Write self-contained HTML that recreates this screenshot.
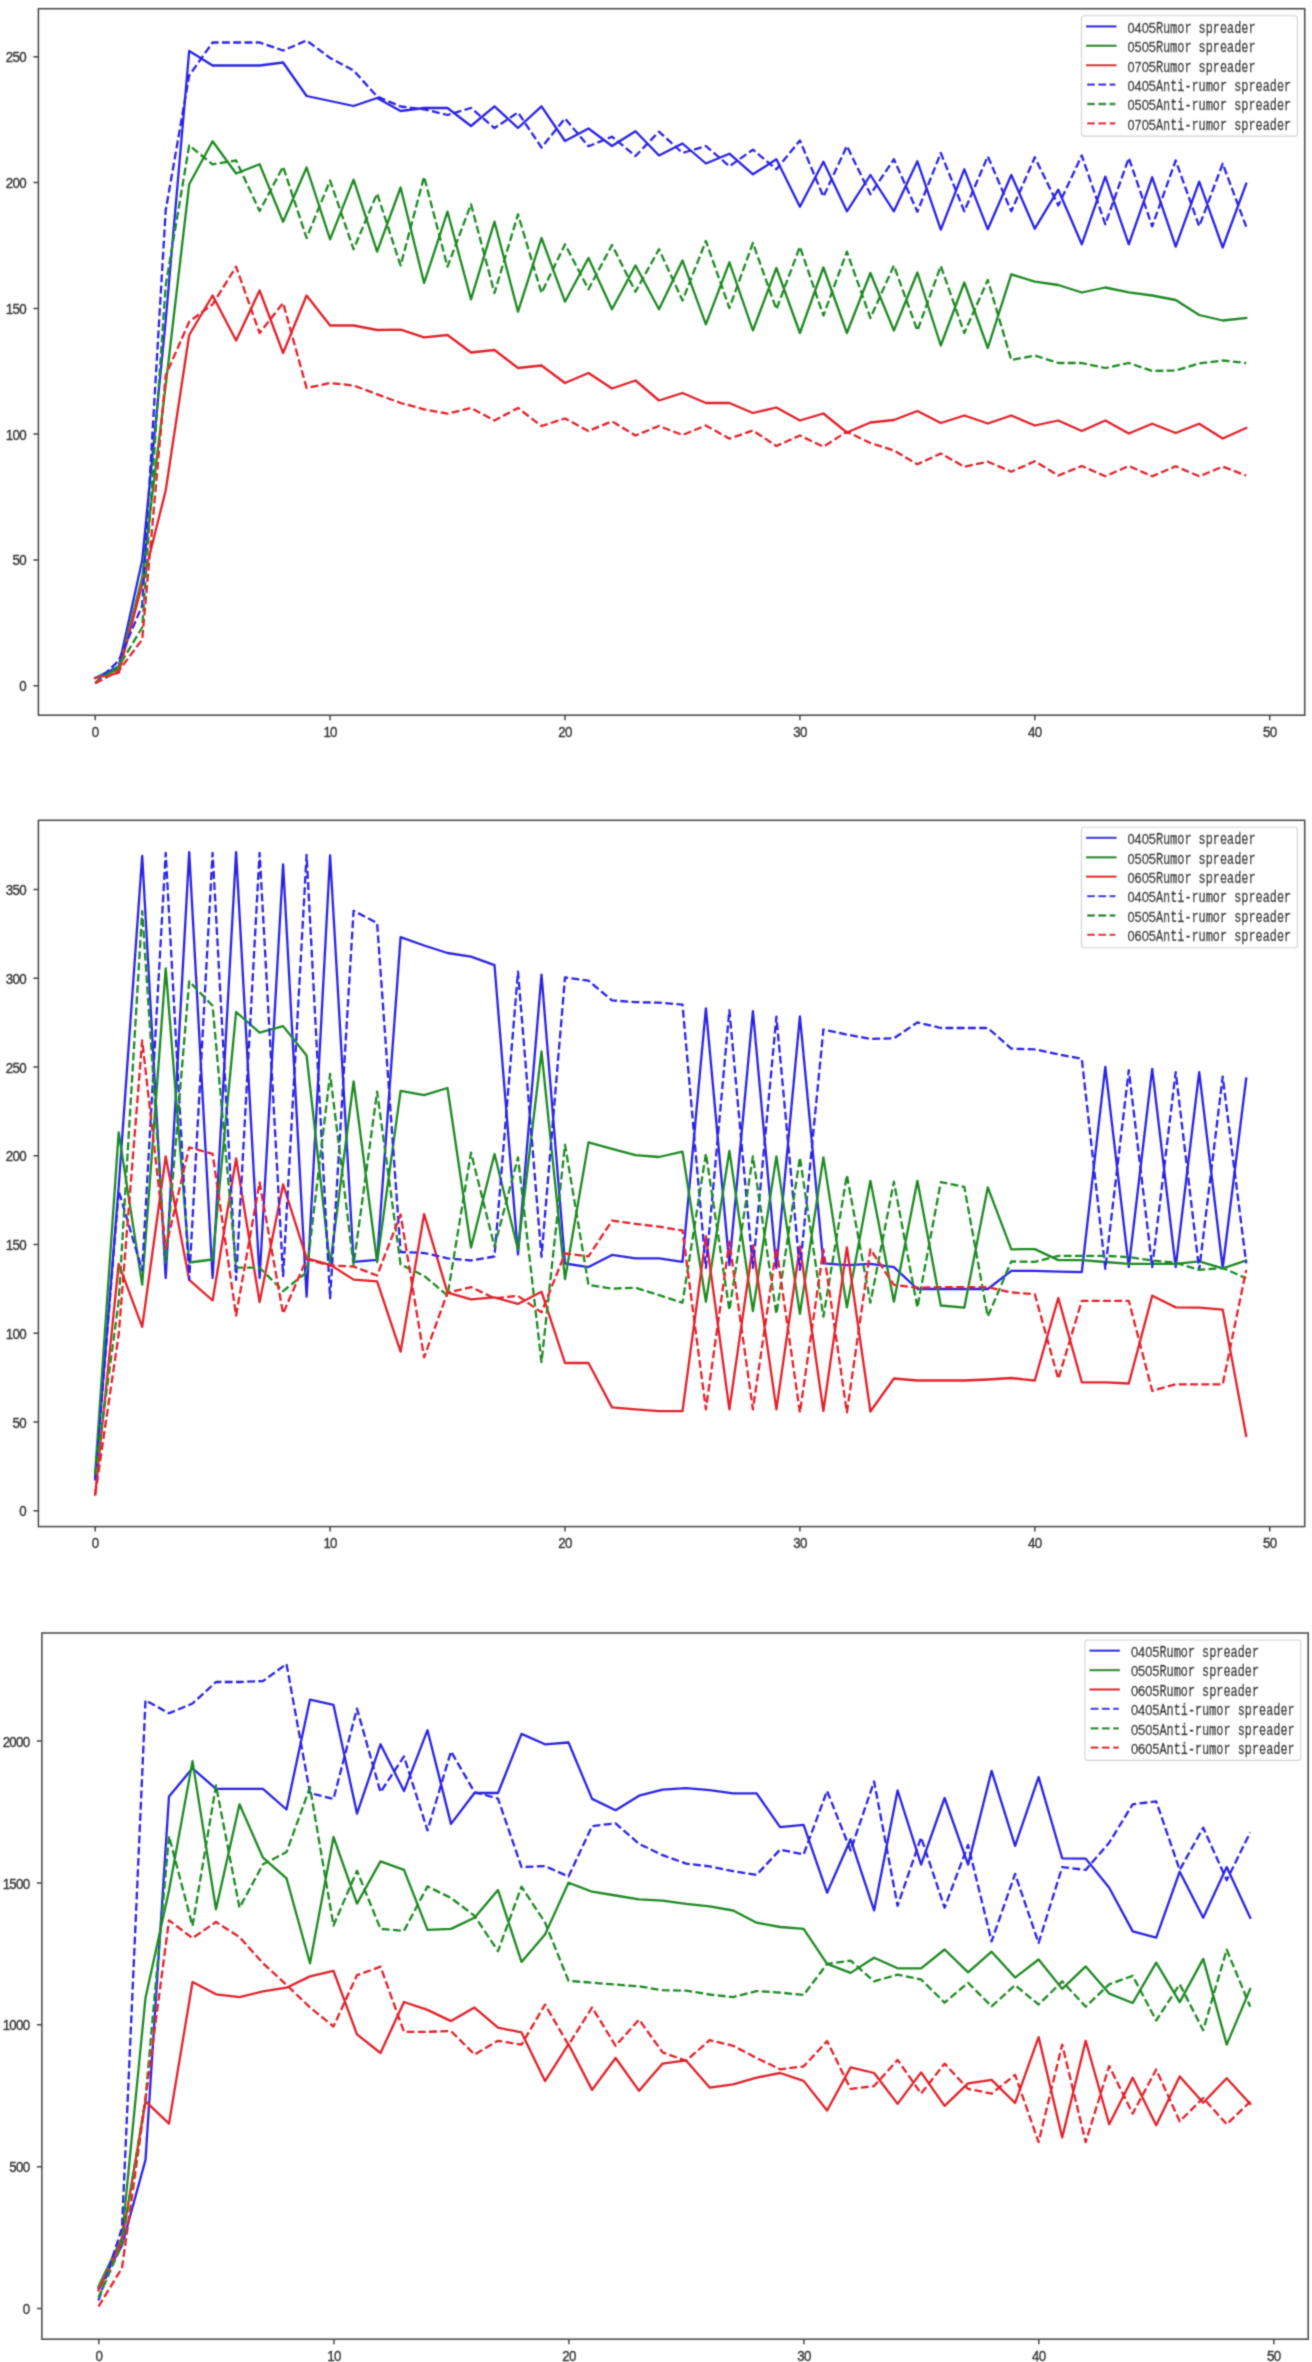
<!DOCTYPE html>
<html lang="en"><head><meta charset="utf-8"><title>Rumor spreader charts</title>
<style>html,body{margin:0;padding:0;background:#fff}svg{display:block}.tk{font-family:"Liberation Sans",sans-serif;font-size:15.5px;letter-spacing:-0.8px;fill:#383838;stroke:#383838;stroke-width:0.4px}.lg{font-family:"Liberation Mono",monospace;font-size:15.8px;fill:#1c1c1c;stroke:#1c1c1c;stroke-width:0.3px}.dg{font-family:"Liberation Sans",sans-serif;font-size:15.5px}.ln{fill:none;stroke-width:2.3;stroke-linejoin:round;stroke-linecap:square;opacity:1}.d{stroke-dasharray:7.85 3.4;stroke-linecap:butt}.b{stroke:#2a24e2}.g{stroke:#1f8824}.r{stroke:#e02029}.fr{fill:none;stroke:#454545;stroke-width:1.5}</style></head><body>
<svg width="1312" height="2362" viewBox="0 0 1312 2362">
<defs><filter id="soft" x="0" y="0" width="1312" height="2362" filterUnits="userSpaceOnUse"><feConvolveMatrix order="3" kernelMatrix="0.0324 0.1152 0.0324 0.1152 0.4096 0.1152 0.0324 0.1152 0.0324" divisor="1" edgeMode="duplicate" preserveAlpha="false"/></filter></defs>
<rect width="1312" height="2362" fill="#fff"/>
<g filter="url(#soft)"><g transform="translate(0 0.5)">
<g id="chart1">
<clipPath id="cp0"><rect x="38.4" y="8.2" width="1266.3" height="706.5"/></clipPath>
<g clip-path="url(#cp0)">
<polyline class="ln b" points="95.2,677.5 118.7,666.0 142.2,560.0 165.7,320.0 189.2,50.5 212.6,65.0 236.1,65.0 259.6,65.0 283.1,62.0 306.6,95.5 330.1,100.5 353.6,105.5 377.1,97.5 400.6,110.5 424.1,107.5 447.5,107.5 471.0,125.5 494.5,105.8 518.0,127.5 541.5,105.8 565.0,140.5 588.5,128.0 612.0,145.5 635.5,130.8 659.0,155.0 682.5,143.0 705.9,163.0 729.4,153.2 752.9,173.8 776.4,158.8 799.9,206.2 823.4,161.2 846.9,210.8 870.4,174.5 893.9,210.8 917.4,160.8 940.8,229.2 964.3,168.8 987.8,228.8 1011.3,174.5 1034.8,228.2 1058.3,189.2 1081.8,243.8 1105.3,176.2 1128.8,243.8 1152.2,176.8 1175.7,246.2 1199.2,181.2 1222.7,247.0 1246.2,183.2"/>
<polyline class="ln g" points="95.2,677.5 118.7,668.8 142.2,577.0 165.7,385.0 189.2,183.8 212.6,140.8 236.1,173.0 259.6,163.8 283.1,221.2 306.6,167.0 330.1,238.8 353.6,179.2 377.1,251.2 400.6,187.0 424.1,282.5 447.5,211.2 471.0,298.8 494.5,221.2 518.0,311.2 541.5,237.5 565.0,301.2 588.5,257.5 612.0,308.8 635.5,265.0 659.0,308.8 682.5,260.0 705.9,323.8 729.4,261.8 752.9,330.0 776.4,267.5 799.9,332.5 823.4,267.0 846.9,332.5 870.4,272.5 893.9,330.0 917.4,272.0 940.8,345.0 964.3,282.0 987.8,347.5 1011.3,273.8 1034.8,281.2 1058.3,284.5 1081.8,292.0 1105.3,287.0 1128.8,291.8 1152.2,295.0 1175.7,299.5 1199.2,314.5 1222.7,320.0 1246.2,317.5"/>
<polyline class="ln r" points="95.2,677.5 118.7,672.4 142.2,584.0 165.7,490.0 189.2,334.5 212.6,295.0 236.1,340.0 259.6,290.0 283.1,352.5 306.6,295.0 330.1,325.0 353.6,325.0 377.1,329.5 400.6,329.2 424.1,336.8 447.5,334.5 471.0,352.0 494.5,349.5 518.0,367.5 541.5,365.0 565.0,382.5 588.5,372.5 612.0,388.0 635.5,380.0 659.0,400.0 682.5,392.5 705.9,402.5 729.4,402.5 752.9,412.5 776.4,407.0 799.9,420.0 823.4,413.0 846.9,432.0 870.4,422.0 893.9,419.5 917.4,410.5 940.8,422.5 964.3,415.0 987.8,423.0 1011.3,415.0 1034.8,425.0 1058.3,420.0 1081.8,430.5 1105.3,420.0 1128.8,433.0 1152.2,423.2 1175.7,432.5 1199.2,423.2 1222.7,438.0 1246.2,427.5"/>
<polyline class="ln b d" points="95.2,682.5 118.7,660.3 142.2,605.0 165.7,210.0 189.2,75.0 212.6,42.0 236.1,42.0 259.6,42.0 283.1,50.0 306.6,40.0 330.1,57.5 353.6,70.0 377.1,96.0 400.6,106.0 424.1,108.8 447.5,114.5 471.0,107.5 494.5,127.5 518.0,112.0 541.5,147.0 565.0,118.0 588.5,145.8 612.0,136.2 635.5,155.5 659.0,131.2 682.5,152.5 705.9,145.5 729.4,165.8 752.9,149.2 776.4,168.8 799.9,140.0 823.4,196.2 846.9,145.5 870.4,193.8 893.9,158.8 917.4,211.2 940.8,152.5 964.3,210.8 987.8,155.8 1011.3,210.8 1034.8,156.8 1058.3,205.0 1081.8,155.0 1105.3,223.8 1128.8,157.5 1152.2,225.8 1175.7,160.0 1199.2,225.8 1222.7,163.2 1246.2,226.2"/>
<polyline class="ln g d" points="95.2,682.5 118.7,666.0 142.2,627.0 165.7,285.0 189.2,145.0 212.6,163.8 236.1,160.0 259.6,210.5 283.1,166.2 306.6,237.5 330.1,180.0 353.6,248.8 377.1,193.0 400.6,265.0 424.1,176.2 447.5,266.2 471.0,203.8 494.5,292.5 518.0,213.8 541.5,292.5 565.0,243.8 588.5,288.8 612.0,244.5 635.5,291.2 659.0,248.8 682.5,300.0 705.9,240.5 729.4,307.5 752.9,242.5 776.4,308.8 799.9,246.2 823.4,315.0 846.9,251.2 870.4,317.5 893.9,265.0 917.4,330.0 940.8,265.5 964.3,332.5 987.8,279.5 1011.3,359.5 1034.8,355.0 1058.3,362.5 1081.8,362.5 1105.3,367.5 1128.8,362.5 1152.2,370.5 1175.7,370.0 1199.2,363.0 1222.7,360.0 1246.2,362.5"/>
<polyline class="ln r d" points="95.2,682.8 118.7,670.4 142.2,639.0 165.7,375.0 189.2,321.2 212.6,303.8 236.1,266.2 259.6,332.5 283.1,302.5 306.6,387.5 330.1,382.5 353.6,385.0 377.1,393.8 400.6,402.5 424.1,408.8 447.5,413.2 471.0,407.5 494.5,420.0 518.0,407.5 541.5,425.5 565.0,418.0 588.5,430.5 612.0,420.8 635.5,435.0 659.0,425.5 682.5,434.5 705.9,425.0 729.4,438.2 752.9,430.0 776.4,445.5 799.9,435.0 823.4,446.2 846.9,431.2 870.4,442.5 893.9,450.0 917.4,463.8 940.8,453.0 964.3,466.2 987.8,461.2 1011.3,471.2 1034.8,460.8 1058.3,475.0 1081.8,465.5 1105.3,475.8 1128.8,465.5 1152.2,475.8 1175.7,465.8 1199.2,475.8 1222.7,466.2 1246.2,475.0"/>
</g>
<rect class="fr" x="38.4" y="8.2" width="1266.3" height="706.5"/>
<path d="M38.4 685.2h-5M38.4 559.4h-5M38.4 433.6h-5M38.4 307.9h-5M38.4 182.1h-5M38.4 56.3h-5M95.2 714.7v5M330.1 714.7v5M565.0 714.7v5M799.9 714.7v5M1034.8 714.7v5M1269.7 714.7v5" stroke="#454545" stroke-width="1.5" fill="none"/>
<text class="tk" transform="translate(26.0 690.7) scale(0.86 1)" text-anchor="end">0</text>
<text class="tk" transform="translate(26.0 564.9) scale(0.86 1)" text-anchor="end">50</text>
<text class="tk" transform="translate(26.0 439.1) scale(0.86 1)" text-anchor="end">100</text>
<text class="tk" transform="translate(26.0 313.4) scale(0.86 1)" text-anchor="end">150</text>
<text class="tk" transform="translate(26.0 187.6) scale(0.86 1)" text-anchor="end">200</text>
<text class="tk" transform="translate(26.0 61.8) scale(0.86 1)" text-anchor="end">250</text>
<text class="tk" transform="translate(95.2 736.0) scale(0.86 1)" text-anchor="middle">0</text>
<text class="tk" transform="translate(330.1 736.0) scale(0.86 1)" text-anchor="middle">10</text>
<text class="tk" transform="translate(565.0 736.0) scale(0.86 1)" text-anchor="middle">20</text>
<text class="tk" transform="translate(799.9 736.0) scale(0.86 1)" text-anchor="middle">30</text>
<text class="tk" transform="translate(1034.8 736.0) scale(0.86 1)" text-anchor="middle">40</text>
<text class="tk" transform="translate(1269.7 736.0) scale(0.86 1)" text-anchor="middle">50</text>
<rect x="1081.5" y="15.2" width="215.9" height="120.4" rx="2.8" ry="2.8" fill="#fff" fill-opacity="0.8" stroke="#d2d2d2" stroke-width="1.1"/>
<path class="ln b" d="M1087.1 25.9h28.3"/>
<text class="lg" x="1127.4" y="32.2"><tspan class="dg" textLength="28.5" lengthAdjust="spacingAndGlyphs">0405</tspan><tspan textLength="99.7" lengthAdjust="spacingAndGlyphs">Rumor spreader</tspan></text>
<path class="ln g" d="M1087.1 45.3h28.3"/>
<text class="lg" x="1127.4" y="51.6"><tspan class="dg" textLength="28.5" lengthAdjust="spacingAndGlyphs">0505</tspan><tspan textLength="99.7" lengthAdjust="spacingAndGlyphs">Rumor spreader</tspan></text>
<path class="ln r" d="M1087.1 64.7h28.3"/>
<text class="lg" x="1127.4" y="71.0"><tspan class="dg" textLength="28.5" lengthAdjust="spacingAndGlyphs">0705</tspan><tspan textLength="99.7" lengthAdjust="spacingAndGlyphs">Rumor spreader</tspan></text>
<path class="ln b d" d="M1087.1 84.1h28.3"/>
<text class="lg" x="1127.4" y="90.4"><tspan class="dg" textLength="28.5" lengthAdjust="spacingAndGlyphs">0405</tspan><tspan textLength="135.3" lengthAdjust="spacingAndGlyphs">Anti-rumor spreader</tspan></text>
<path class="ln g d" d="M1087.1 103.5h28.3"/>
<text class="lg" x="1127.4" y="109.8"><tspan class="dg" textLength="28.5" lengthAdjust="spacingAndGlyphs">0505</tspan><tspan textLength="135.3" lengthAdjust="spacingAndGlyphs">Anti-rumor spreader</tspan></text>
<path class="ln r d" d="M1087.1 122.9h28.3"/>
<text class="lg" x="1127.4" y="129.2"><tspan class="dg" textLength="28.5" lengthAdjust="spacingAndGlyphs">0705</tspan><tspan textLength="135.3" lengthAdjust="spacingAndGlyphs">Anti-rumor spreader</tspan></text>
</g>
<g id="chart2">
<clipPath id="cp1"><rect x="38.4" y="819.8" width="1266.3" height="706.3"/></clipPath>
<g clip-path="url(#cp1)">
<polyline class="ln b" points="95.2,1478.0 118.7,1186.0 142.2,855.3 165.7,1277.5 189.2,851.6 212.6,1277.5 236.1,851.6 259.6,1277.5 283.1,863.8 306.6,1296.2 330.1,855.0 353.6,1261.3 377.1,1259.4 400.6,936.6 424.1,945.0 447.5,952.5 471.0,956.2 494.5,964.7 518.0,1254.0 541.5,974.1 565.0,1263.0 588.5,1266.6 612.0,1254.4 635.5,1257.8 659.0,1257.8 682.5,1261.3 705.9,1007.8 729.4,1264.7 752.9,1010.6 776.4,1267.5 799.9,1015.8 823.4,1262.8 846.9,1264.7 870.4,1263.4 893.9,1266.6 917.4,1288.5 940.8,1288.5 964.3,1288.5 987.8,1288.5 1011.3,1270.3 1034.8,1270.3 1058.3,1271.2 1081.8,1271.6 1105.3,1066.5 1128.8,1266.6 1152.2,1068.4 1175.7,1266.6 1199.2,1071.6 1222.7,1267.5 1246.2,1078.1"/>
<polyline class="ln g" points="95.2,1472.0 118.7,1131.9 142.2,1284.1 165.7,967.8 189.2,1262.0 212.6,1259.0 236.1,1011.5 259.6,1032.1 283.1,1025.6 306.6,1055.0 330.1,1265.0 353.6,1081.0 377.1,1261.5 400.6,1090.3 424.1,1094.6 447.5,1087.5 471.0,1247.0 494.5,1153.5 518.0,1249.0 541.5,1051.0 565.0,1278.5 588.5,1141.9 612.0,1148.4 635.5,1154.6 659.0,1156.5 682.5,1151.2 705.9,1301.2 729.4,1150.3 752.9,1310.6 776.4,1155.9 799.9,1313.4 823.4,1156.9 846.9,1306.9 870.4,1180.3 893.9,1301.2 917.4,1180.3 940.8,1305.0 964.3,1307.2 987.8,1186.9 1011.3,1248.8 1034.8,1248.6 1058.3,1259.6 1081.8,1259.6 1105.3,1261.5 1128.8,1263.4 1152.2,1263.4 1175.7,1263.4 1199.2,1260.9 1222.7,1267.9 1246.2,1260.0"/>
<polyline class="ln r" points="95.2,1494.1 118.7,1263.4 142.2,1326.3 165.7,1156.0 189.2,1279.4 212.6,1300.0 236.1,1158.0 259.6,1301.5 283.1,1184.0 306.6,1257.8 330.1,1264.3 353.6,1279.1 377.1,1280.9 400.6,1351.2 424.1,1213.7 447.5,1292.2 471.0,1298.8 494.5,1296.9 518.0,1303.4 541.5,1291.2 565.0,1362.5 588.5,1362.5 612.0,1406.9 635.5,1408.8 659.0,1410.6 682.5,1410.6 705.9,1235.6 729.4,1408.8 752.9,1245.0 776.4,1408.8 799.9,1246.0 823.4,1410.5 846.9,1246.9 870.4,1411.0 893.9,1378.0 917.4,1380.0 940.8,1380.0 964.3,1380.0 987.8,1379.0 1011.3,1377.5 1034.8,1380.0 1058.3,1297.5 1081.8,1381.8 1105.3,1381.9 1128.8,1383.0 1152.2,1295.2 1175.7,1306.9 1199.2,1307.2 1222.7,1309.1 1246.2,1435.3"/>
<polyline class="ln b d" points="95.2,1480.0 118.7,1190.3 142.2,1270.0 165.7,852.5 189.2,1279.4 212.6,852.5 236.1,1279.4 259.6,852.5 283.1,1275.6 306.6,854.4 330.1,1297.8 353.6,910.3 377.1,922.5 400.6,1251.5 424.1,1252.5 447.5,1257.8 471.0,1260.0 494.5,1256.0 518.0,971.2 541.5,1256.4 565.0,977.0 588.5,980.2 612.0,999.9 635.5,1001.6 659.0,1002.2 682.5,1004.1 705.9,1267.5 729.4,1009.7 752.9,1267.5 776.4,1016.2 799.9,1269.4 823.4,1029.0 846.9,1034.1 870.4,1038.4 893.9,1037.8 917.4,1021.9 940.8,1027.5 964.3,1027.5 987.8,1027.5 1011.3,1048.1 1034.8,1048.9 1058.3,1053.8 1081.8,1058.4 1105.3,1268.4 1128.8,1069.7 1152.2,1266.6 1175.7,1071.6 1199.2,1269.4 1222.7,1076.2 1246.2,1262.8"/>
<polyline class="ln g d" points="95.2,1474.0 118.7,1301.0 142.2,910.6 165.7,1262.0 189.2,980.9 212.6,1005.3 236.1,1267.2 259.6,1267.2 283.1,1290.6 306.6,1271.9 330.1,1073.5 353.6,1264.5 377.1,1091.2 400.6,1264.0 424.1,1275.3 447.5,1295.0 471.0,1152.2 494.5,1246.0 518.0,1156.9 541.5,1361.6 565.0,1144.2 588.5,1284.4 612.0,1288.1 635.5,1287.2 659.0,1294.7 682.5,1302.2 705.9,1153.1 729.4,1309.7 752.9,1155.9 776.4,1313.4 799.9,1156.9 823.4,1316.2 846.9,1174.7 870.4,1302.2 893.9,1181.2 917.4,1306.9 940.8,1181.6 964.3,1186.5 987.8,1316.0 1011.3,1260.9 1034.8,1261.4 1058.3,1255.3 1081.8,1255.3 1105.3,1255.3 1128.8,1256.6 1152.2,1260.0 1175.7,1262.2 1199.2,1269.4 1222.7,1267.5 1246.2,1277.8"/>
<polyline class="ln r d" points="95.2,1494.0 118.7,1334.0 142.2,1040.0 165.7,1247.5 189.2,1146.9 212.6,1153.4 236.1,1315.0 259.6,1182.0 283.1,1313.1 306.6,1258.8 330.1,1265.0 353.6,1266.0 377.1,1275.0 400.6,1214.0 424.1,1356.9 447.5,1292.2 471.0,1286.6 494.5,1297.8 518.0,1295.4 541.5,1311.9 565.0,1253.0 588.5,1255.9 612.0,1220.2 635.5,1223.4 659.0,1226.2 682.5,1230.0 705.9,1408.8 729.4,1241.2 752.9,1408.8 776.4,1247.8 799.9,1412.0 823.4,1248.8 846.9,1411.9 870.4,1248.8 893.9,1284.4 917.4,1287.2 940.8,1286.6 964.3,1286.6 987.8,1286.6 1011.3,1291.9 1034.8,1293.7 1058.3,1378.4 1081.8,1300.3 1105.3,1300.3 1128.8,1300.3 1152.2,1390.3 1175.7,1383.8 1199.2,1383.8 1222.7,1383.8 1246.2,1269.4"/>
</g>
<rect class="fr" x="38.4" y="819.8" width="1266.3" height="706.3"/>
<path d="M38.4 1510.2h-5M38.4 1421.5h-5M38.4 1332.8h-5M38.4 1244.0h-5M38.4 1155.3h-5M38.4 1066.6h-5M38.4 977.8h-5M38.4 889.1h-5M95.2 1526.1v5M330.1 1526.1v5M565.0 1526.1v5M799.9 1526.1v5M1034.8 1526.1v5M1269.7 1526.1v5" stroke="#454545" stroke-width="1.5" fill="none"/>
<text class="tk" transform="translate(26.0 1515.8) scale(0.86 1)" text-anchor="end">0</text>
<text class="tk" transform="translate(26.0 1427.0) scale(0.86 1)" text-anchor="end">50</text>
<text class="tk" transform="translate(26.0 1338.3) scale(0.86 1)" text-anchor="end">100</text>
<text class="tk" transform="translate(26.0 1249.5) scale(0.86 1)" text-anchor="end">150</text>
<text class="tk" transform="translate(26.0 1160.8) scale(0.86 1)" text-anchor="end">200</text>
<text class="tk" transform="translate(26.0 1072.1) scale(0.86 1)" text-anchor="end">250</text>
<text class="tk" transform="translate(26.0 983.3) scale(0.86 1)" text-anchor="end">300</text>
<text class="tk" transform="translate(26.0 894.6) scale(0.86 1)" text-anchor="end">350</text>
<text class="tk" transform="translate(95.2 1547.4) scale(0.86 1)" text-anchor="middle">0</text>
<text class="tk" transform="translate(330.1 1547.4) scale(0.86 1)" text-anchor="middle">10</text>
<text class="tk" transform="translate(565.0 1547.4) scale(0.86 1)" text-anchor="middle">20</text>
<text class="tk" transform="translate(799.9 1547.4) scale(0.86 1)" text-anchor="middle">30</text>
<text class="tk" transform="translate(1034.8 1547.4) scale(0.86 1)" text-anchor="middle">40</text>
<text class="tk" transform="translate(1269.7 1547.4) scale(0.86 1)" text-anchor="middle">50</text>
<rect x="1081.5" y="826.8" width="215.9" height="120.4" rx="2.8" ry="2.8" fill="#fff" fill-opacity="0.8" stroke="#d2d2d2" stroke-width="1.1"/>
<path class="ln b" d="M1087.1 837.4h28.3"/>
<text class="lg" x="1127.4" y="843.7"><tspan class="dg" textLength="28.5" lengthAdjust="spacingAndGlyphs">0405</tspan><tspan textLength="99.7" lengthAdjust="spacingAndGlyphs">Rumor spreader</tspan></text>
<path class="ln g" d="M1087.1 856.8h28.3"/>
<text class="lg" x="1127.4" y="863.1"><tspan class="dg" textLength="28.5" lengthAdjust="spacingAndGlyphs">0505</tspan><tspan textLength="99.7" lengthAdjust="spacingAndGlyphs">Rumor spreader</tspan></text>
<path class="ln r" d="M1087.1 876.2h28.3"/>
<text class="lg" x="1127.4" y="882.5"><tspan class="dg" textLength="28.5" lengthAdjust="spacingAndGlyphs">0605</tspan><tspan textLength="99.7" lengthAdjust="spacingAndGlyphs">Rumor spreader</tspan></text>
<path class="ln b d" d="M1087.1 895.6h28.3"/>
<text class="lg" x="1127.4" y="901.9"><tspan class="dg" textLength="28.5" lengthAdjust="spacingAndGlyphs">0405</tspan><tspan textLength="135.3" lengthAdjust="spacingAndGlyphs">Anti-rumor spreader</tspan></text>
<path class="ln g d" d="M1087.1 915.0h28.3"/>
<text class="lg" x="1127.4" y="921.3"><tspan class="dg" textLength="28.5" lengthAdjust="spacingAndGlyphs">0505</tspan><tspan textLength="135.3" lengthAdjust="spacingAndGlyphs">Anti-rumor spreader</tspan></text>
<path class="ln r d" d="M1087.1 934.4h28.3"/>
<text class="lg" x="1127.4" y="940.7"><tspan class="dg" textLength="28.5" lengthAdjust="spacingAndGlyphs">0605</tspan><tspan textLength="135.3" lengthAdjust="spacingAndGlyphs">Anti-rumor spreader</tspan></text>
</g>
<g id="chart3">
<clipPath id="cp2"><rect x="41.9" y="1632.5" width="1266.3" height="706.2"/></clipPath>
<g clip-path="url(#cp2)">
<polyline class="ln b" points="98.5,2287.5 122.0,2245.0 145.5,2159.4 169.0,1795.9 192.5,1767.8 216.0,1788.4 239.5,1788.4 263.0,1788.4 286.5,1809.0 310.0,1699.1 333.5,1704.4 357.0,1813.1 380.5,1743.8 404.0,1790.6 427.5,1729.7 451.0,1823.4 474.5,1792.5 498.0,1792.5 521.5,1733.4 545.0,1743.8 568.5,1742.0 592.1,1798.4 615.6,1809.7 639.1,1795.2 662.6,1789.1 686.1,1787.6 709.6,1789.6 733.1,1792.8 756.6,1792.8 780.1,1826.6 803.6,1824.3 827.1,1892.2 850.6,1838.8 874.1,1910.0 897.6,1790.0 921.1,1864.1 944.6,1797.5 968.1,1864.1 991.6,1770.3 1015.1,1845.3 1038.6,1776.6 1062.2,1857.8 1085.7,1858.1 1109.2,1887.2 1132.7,1930.9 1156.2,1937.2 1179.7,1871.2 1203.2,1917.2 1226.7,1866.6 1250.2,1917.2"/>
<polyline class="ln g" points="98.5,2286.0 122.0,2237.0 145.5,1997.5 169.0,1890.0 192.5,1760.6 216.0,1908.8 239.5,1803.8 263.0,1857.2 286.5,1877.8 310.0,1962.8 333.5,1836.5 357.0,1903.1 380.5,1860.9 404.0,1869.4 427.5,1929.4 451.0,1928.4 474.5,1917.2 498.0,1889.6 521.5,1961.4 545.0,1934.1 568.5,1882.2 592.1,1891.2 615.6,1895.0 639.1,1898.8 662.6,1900.2 686.1,1903.4 709.6,1905.9 733.1,1910.0 756.6,1922.2 780.1,1926.5 803.6,1928.4 827.1,1963.4 850.6,1972.4 874.1,1957.2 897.6,1967.8 921.1,1967.8 944.6,1949.0 968.1,1971.9 991.6,1951.2 1015.1,1977.1 1038.6,1959.0 1062.2,1988.4 1085.7,1965.9 1109.2,1993.1 1132.7,2002.5 1156.2,1962.2 1179.7,2001.6 1203.2,1958.4 1226.7,2044.1 1250.2,1988.4"/>
<polyline class="ln r" points="98.5,2290.0 122.0,2240.0 145.5,2100.8 169.0,2123.1 192.5,1981.6 216.0,1993.8 239.5,1996.6 263.0,1990.9 286.5,1987.2 310.0,1975.9 333.5,1970.3 357.0,2033.8 380.5,2052.5 404.0,2001.5 427.5,2009.4 451.0,2020.6 474.5,2007.1 498.0,2027.2 521.5,2031.9 545.0,2080.6 568.5,2043.7 592.1,2089.4 615.6,2057.5 639.1,2090.3 662.6,2063.1 686.1,2059.9 709.6,2087.1 733.1,2083.8 756.6,2077.2 780.1,2072.5 803.6,2080.4 827.1,2110.0 850.6,2066.9 874.1,2072.5 897.6,2103.4 921.1,2071.9 944.6,2105.3 968.1,2082.8 991.6,2079.4 1015.1,2102.5 1038.6,2036.6 1062.2,2136.9 1085.7,2040.3 1109.2,2123.8 1132.7,2077.2 1156.2,2124.7 1179.7,2075.9 1203.2,2102.2 1226.7,2077.8 1250.2,2103.5"/>
<polyline class="ln b d" points="98.5,2300.0 122.0,2227.5 145.5,1699.7 169.0,1712.8 192.5,1703.0 216.0,1681.5 239.5,1681.5 263.0,1680.6 286.5,1663.5 310.0,1792.5 333.5,1798.5 357.0,1708.1 380.5,1791.6 404.0,1755.9 427.5,1830.0 451.0,1750.9 474.5,1791.6 498.0,1798.1 521.5,1866.6 545.0,1865.6 568.5,1876.0 592.1,1825.6 615.6,1822.8 639.1,1843.4 662.6,1854.7 686.1,1863.1 709.6,1865.9 733.1,1870.6 756.6,1874.4 780.1,1849.1 803.6,1854.0 827.1,1790.4 850.6,1850.0 874.1,1781.0 897.6,1905.3 921.1,1836.9 944.6,1907.2 968.1,1844.4 991.6,1940.9 1015.1,1873.4 1038.6,1942.5 1062.2,1866.6 1085.7,1869.4 1109.2,1842.2 1132.7,1803.8 1156.2,1800.9 1179.7,1869.4 1203.2,1827.2 1226.7,1879.7 1250.2,1831.9"/>
<polyline class="ln g d" points="98.5,2297.0 122.0,2243.8 145.5,2098.0 169.0,1835.6 192.5,1925.6 216.0,1785.0 239.5,1907.2 263.0,1863.8 286.5,1851.6 310.0,1786.9 333.5,1925.0 357.0,1870.3 380.5,1928.4 404.0,1930.3 427.5,1885.9 451.0,1897.5 474.5,1915.3 498.0,1950.6 521.5,1886.2 545.0,1921.9 568.5,1980.3 592.1,1982.2 615.6,1984.1 639.1,1985.9 662.6,1989.7 686.1,1990.2 709.6,1994.0 733.1,1996.6 756.6,1990.6 780.1,1992.1 803.6,1994.4 827.1,1963.4 850.6,1960.2 874.1,1980.9 897.6,1974.1 921.1,1979.0 944.6,2002.2 968.1,1982.3 991.6,2005.9 1015.1,1984.7 1038.6,2004.0 1062.2,1980.9 1085.7,2006.2 1109.2,1983.8 1132.7,1975.3 1156.2,2020.0 1179.7,1983.8 1203.2,2029.7 1226.7,1949.1 1250.2,2006.2"/>
<polyline class="ln r d" points="98.5,2306.0 122.0,2267.5 145.5,2099.0 169.0,1919.8 192.5,1937.6 216.0,1921.5 239.5,1936.6 263.0,1962.8 286.5,1984.4 310.0,2006.9 333.5,2026.0 357.0,1974.7 380.5,1966.2 404.0,2031.3 427.5,2031.3 451.0,2030.6 474.5,2054.0 498.0,2040.3 521.5,2044.1 545.0,2004.1 568.5,2044.4 592.1,2006.9 615.6,2045.3 639.1,2019.1 662.6,2051.9 686.1,2060.3 709.6,2039.7 733.1,2045.3 756.6,2057.5 780.1,2068.8 803.6,2065.9 827.1,2040.6 850.6,2088.4 874.1,2085.6 897.6,2059.4 921.1,2093.1 944.6,2063.1 968.1,2088.4 991.6,2093.1 1015.1,2074.4 1038.6,2141.6 1062.2,2044.1 1085.7,2141.6 1109.2,2065.6 1132.7,2113.1 1156.2,2069.0 1179.7,2120.9 1203.2,2097.5 1226.7,2123.8 1250.2,2101.2"/>
</g>
<rect class="fr" x="41.9" y="1632.5" width="1266.3" height="706.2"/>
<path d="M41.9 2308.0h-5M41.9 2166.2h-5M41.9 2024.3h-5M41.9 1882.5h-5M41.9 1740.6h-5M98.8 2338.7v5M333.9 2338.7v5M568.9 2338.7v5M803.9 2338.7v5M1038.8 2338.7v5M1273.8 2338.7v5" stroke="#454545" stroke-width="1.5" fill="none"/>
<text class="tk" transform="translate(29.5 2313.5) scale(0.86 1)" text-anchor="end">0</text>
<text class="tk" transform="translate(29.5 2171.7) scale(0.86 1)" text-anchor="end">500</text>
<text class="tk" transform="translate(29.5 2029.8) scale(0.86 1)" text-anchor="end">1000</text>
<text class="tk" transform="translate(29.5 1888.0) scale(0.86 1)" text-anchor="end">1500</text>
<text class="tk" transform="translate(29.5 1746.1) scale(0.86 1)" text-anchor="end">2000</text>
<text class="tk" transform="translate(98.8 2360.0) scale(0.86 1)" text-anchor="middle">0</text>
<text class="tk" transform="translate(333.9 2360.0) scale(0.86 1)" text-anchor="middle">10</text>
<text class="tk" transform="translate(568.9 2360.0) scale(0.86 1)" text-anchor="middle">20</text>
<text class="tk" transform="translate(803.9 2360.0) scale(0.86 1)" text-anchor="middle">30</text>
<text class="tk" transform="translate(1038.8 2360.0) scale(0.86 1)" text-anchor="middle">40</text>
<text class="tk" transform="translate(1273.8 2360.0) scale(0.86 1)" text-anchor="middle">50</text>
<rect x="1085.0" y="1639.5" width="215.9" height="120.4" rx="2.8" ry="2.8" fill="#fff" fill-opacity="0.8" stroke="#d2d2d2" stroke-width="1.1"/>
<path class="ln b" d="M1090.6 1650.2h28.3"/>
<text class="lg" x="1130.9" y="1656.5"><tspan class="dg" textLength="28.5" lengthAdjust="spacingAndGlyphs">0405</tspan><tspan textLength="99.7" lengthAdjust="spacingAndGlyphs">Rumor spreader</tspan></text>
<path class="ln g" d="M1090.6 1669.6h28.3"/>
<text class="lg" x="1130.9" y="1675.9"><tspan class="dg" textLength="28.5" lengthAdjust="spacingAndGlyphs">0505</tspan><tspan textLength="99.7" lengthAdjust="spacingAndGlyphs">Rumor spreader</tspan></text>
<path class="ln r" d="M1090.6 1689.0h28.3"/>
<text class="lg" x="1130.9" y="1695.2"><tspan class="dg" textLength="28.5" lengthAdjust="spacingAndGlyphs">0605</tspan><tspan textLength="99.7" lengthAdjust="spacingAndGlyphs">Rumor spreader</tspan></text>
<path class="ln b d" d="M1090.6 1708.4h28.3"/>
<text class="lg" x="1130.9" y="1714.7"><tspan class="dg" textLength="28.5" lengthAdjust="spacingAndGlyphs">0405</tspan><tspan textLength="135.3" lengthAdjust="spacingAndGlyphs">Anti-rumor spreader</tspan></text>
<path class="ln g d" d="M1090.6 1727.8h28.3"/>
<text class="lg" x="1130.9" y="1734.0"><tspan class="dg" textLength="28.5" lengthAdjust="spacingAndGlyphs">0505</tspan><tspan textLength="135.3" lengthAdjust="spacingAndGlyphs">Anti-rumor spreader</tspan></text>
<path class="ln r d" d="M1090.6 1747.2h28.3"/>
<text class="lg" x="1130.9" y="1753.5"><tspan class="dg" textLength="28.5" lengthAdjust="spacingAndGlyphs">0605</tspan><tspan textLength="135.3" lengthAdjust="spacingAndGlyphs">Anti-rumor spreader</tspan></text>
</g>
</g></g>
</svg></body></html>
